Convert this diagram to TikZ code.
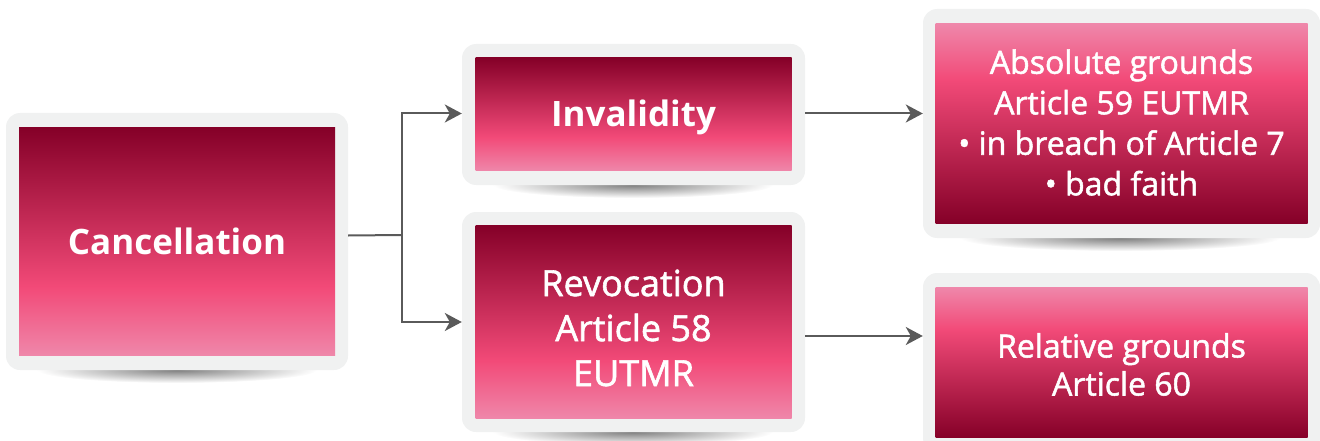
\documentclass[tikz,border=0pt]{standalone}
\usepackage{fontspec}
\setmainfont{Open Sans}
\newfontfamily\semifont[FakeBold=1.6]{Open Sans}
\usepackage{xcolor}
\usepackage{tikz}
\usetikzlibrary{arrows.meta}

\definecolor{wine}{HTML}{850028}
\definecolor{rose}{HTML}{F24A78}
\definecolor{blush}{HTML}{EF87AA}
\definecolor{framegray}{HTML}{F0F1F1}
\definecolor{wire}{HTML}{5A5A5A}

\pgfdeclareverticalshading{darktop}{100bp}{color(0bp)=(blush); color(25bp)=(blush); color(40bp)=(rose); color(75bp)=(wine); color(100bp)=(wine)}
\pgfdeclareverticalshading{darkbottom}{100bp}{color(0bp)=(wine); color(25bp)=(wine); color(61bp)=(rose); color(75bp)=(blush); color(100bp)=(blush)}

\tikzset{
  card/.style={fill=framegray, rounded corners=14pt, inner sep=0pt},
  panel/.style={inner sep=0pt},
  caption/.style={inner sep=0pt, text=white, align=center},
  shadowfx/.style={inner color=black!50, outer color=white},
  link/.style={draw=wire, line width=2pt},
  arr/.style={link, -{Stealth[length=17pt,width=18pt,inset=5pt]}},
}

\begin{document}
\begin{tikzpicture}[x=1pt, y=-1pt]
\useasboundingbox (0,0) rectangle (1320,441);

% shadows
\shade[shadowfx] (177,370) ellipse (140pt and 13pt);
\shade[shadowfx] (633,185) ellipse (140pt and 13pt);
\shade[shadowfx] (633,432) ellipse (140pt and 13pt);
\shade[shadowfx] (1120,238) ellipse (160pt and 13pt);

% frames
\node[card, minimum width=342pt, minimum height=257pt] (canc) at (177,241.5) {};
\node[card, minimum width=343pt, minimum height=141pt] (inv) at (633.5,114.5) {};
\node[card, minimum width=343pt, minimum height=220pt] (rev) at (633.5,322) {};
\node[card, minimum width=397pt, minimum height=229pt] (abs) at (1121.5,123.5) {};
\node[card, minimum width=397pt, minimum height=179pt] (rel) at (1121.5,362.5) {};

% panels
\node[panel, shading=darktop, minimum width=316pt, minimum height=228pt] (canc-p) at (canc) {};
\node[panel, shading=darktop, minimum width=316pt, minimum height=113pt] (inv-p) at (inv) {};
\node[panel, shading=darktop, minimum width=316pt, minimum height=193pt] (rev-p) at (rev) {};
\node[panel, shading=darkbottom, minimum width=372pt, minimum height=199pt] (abs-p) at (abs) {};
\node[panel, shading=darkbottom, minimum width=372pt, minimum height=150pt] (rel-p) at (rel) {};

% captions
\node[caption, font=\fontsize{35}{44}\selectfont\bfseries] (canc-l) at (canc-p) {Cancellation};
\node[caption, font=\fontsize{35}{44}\selectfont\bfseries] (inv-l) at ([yshift=-3pt]inv-p) {Invalidity};
\node[caption, font=\fontsize{36}{45}\semifont] (rev-l) at ([yshift=-6pt]rev-p)
  {Revocation\\Article 58\hspace*{10pt}\\EUTMR};
\node[caption, font=\fontsize{32}{40.5}\semifont] (abs-l) at ([yshift=1pt]abs-p)
  {Absolute grounds\\Article 59 EUTMR\\{\textbullet} in breach of Article 7\\{\textbullet} bad faith};
\node[caption, font=\fontsize{32}{38}\semifont] (rel-l) at ([yshift=-2pt]rel-p) {Relative grounds\\Article 60};

% connectors
\coordinate (fork) at (402,235);
\draw[link] ([yshift=6pt]canc.east) -- (fork);
\draw[arr] (fork) |- ([yshift=1pt]inv.west);
\draw[arr] (fork) |- (rev.west);
\draw[arr] ([yshift=1pt]inv.east) -- ([yshift=1pt]inv.east -| abs.west);
\draw[arr] ([yshift=-14pt]rev.east) -- ([yshift=-14pt]rev.east -| rel.west);
\end{tikzpicture}
\end{document}
